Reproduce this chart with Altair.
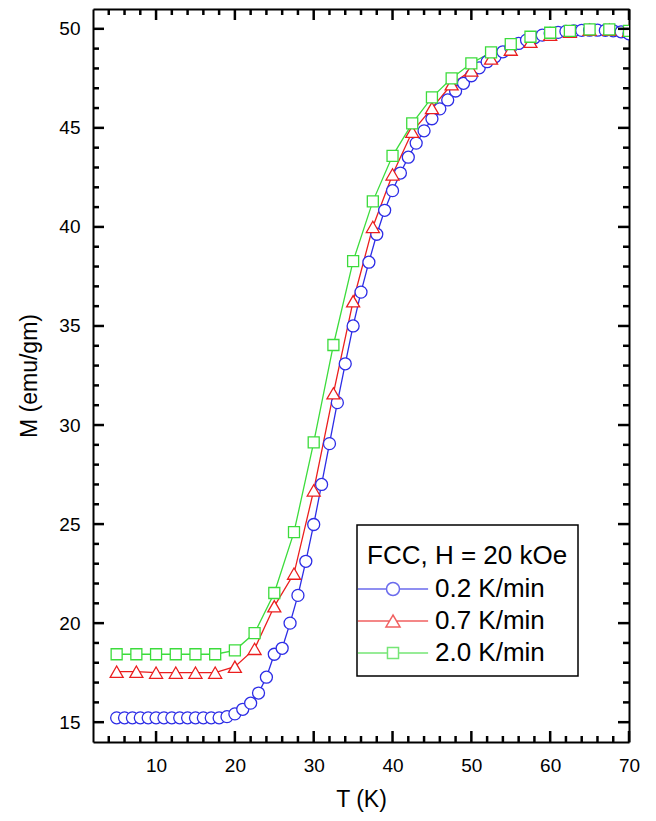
import altair as alt
import pandas as pd

# ---------------- data ----------------
blue_T = [5, 6, 7, 8, 9, 10, 11, 12, 13, 14, 15, 16, 17, 18, 19, 20, 21, 22, 23, 24,
          25, 26, 27, 28, 29, 30, 31, 32, 33, 34, 35, 36, 37, 38, 39, 40, 41, 42, 43, 44,
          45, 46, 47, 48, 49, 50, 51, 52, 53, 54, 55, 56, 57, 58, 59, 60, 61, 62, 63, 64,
          65, 66, 67, 68, 69, 70]
blue_M = [15.22, 15.22, 15.22, 15.22, 15.22, 15.22, 15.22, 15.22, 15.22, 15.22, 15.22, 15.22, 15.22, 15.22,
          15.28, 15.42, 15.65, 15.96, 16.47, 17.27, 18.43, 18.73, 20.0, 21.4, 23.12, 24.98, 27.0, 29.06,
          31.13, 33.09, 35.0, 36.71, 38.22, 39.63, 40.84, 41.83, 42.72, 43.52, 44.23, 44.85, 45.46, 45.96,
          46.41, 46.86, 47.25, 47.63, 48.03, 48.34, 48.59, 48.84, 49.05, 49.26, 49.43, 49.55, 49.68, 49.77,
          49.82, 49.87, 49.9, 49.92, 49.93, 49.93, 49.92, 49.9, 49.85, 49.75]

red_T = [5, 7.5, 10, 12.5, 15, 17.5, 20, 22.5, 25, 27.5, 30, 32.5, 35, 37.5, 40, 42.5, 45,
         47.5, 50, 52.5, 55, 57.5, 60, 62.5, 65, 67.5, 70]
red_M = [17.55, 17.55, 17.5, 17.5, 17.5, 17.5, 17.8, 18.7, 20.85, 22.5, 26.7, 31.6, 36.25, 40.0,
         42.65, 44.8, 46.0, 47.2, 47.9, 48.5, 48.95, 49.35, 49.7, 49.85, 49.95, 49.95, 49.9]

green_T = [5, 7.5, 10, 12.5, 15, 17.5, 20, 22.5, 25, 27.5, 30, 32.5, 35, 37.5, 40, 42.5, 45,
           47.5, 50, 52.5, 55, 57.5, 60, 62.5, 65, 67.5, 70]
green_M = [18.43, 18.43, 18.43, 18.43, 18.43, 18.43, 18.63, 19.5, 21.52, 24.59, 29.12, 34.04, 38.27,
           41.29, 43.59, 45.23, 46.54, 47.5, 48.26, 48.81, 49.23, 49.6, 49.8, 49.9, 49.97, 49.97, 49.9]

series_names = ["0.2 K/min", "0.7 K/min", "2.0 K/min"]
series_colors = ["#2d2de6", "#eb1e1e", "#3cdc3c"]

x_major_ticks = [10, 20, 30, 40, 50, 60, 70]
x_minor_ticks = [4, 6, 8, 12, 14, 16, 18, 22, 24, 26, 28, 32, 34, 36, 38, 42, 44, 46, 48,
                 52, 54, 56, 58, 62, 64, 66, 68]
y_major_ticks = [15, 20, 25, 30, 35, 40, 45, 50]
y_minor_ticks = [16, 17, 18, 19, 21, 22, 23, 24, 26, 27, 28, 29, 31, 32, 33, 34, 36, 37, 38, 39,
                 41, 42, 43, 44, 46, 47, 48, 49]

legend_title = "FCC, H = 20 kOe"
x_title = "T (K)"
y_title = "M (emu/gm)"

# legend symbols: line + marker, as custom paths
legend_paths = [
    "M-5.4,0H-1M1,0H5.4M1,0A1,1,0,1,1,-1,0A1,1,0,1,1,1,0Z",
    "M-5.4,0H-0.54M0.54,0H5.4M0,-0.92L-1.08,0.92L1.08,0.92Z",
    "M-5.4,0H-0.85M0.85,0H5.4M-0.85,-0.85H0.85V0.85H-0.85Z",
]

# ---------------- build ----------------
W, H = 536, 733
FONT = "Liberation Sans"
MAJOR, MINOR = 11, 6

frames = []
for name, T, M in zip(series_names, [blue_T, red_T, green_T], [blue_M, red_M, green_M]):
    frames.append(pd.DataFrame({"T": T, "M": M, "rate": name}))
df = pd.concat(frames, ignore_index=True)

xs = alt.Scale(domain=[2, 70], nice=False, zero=False)
ys = alt.Scale(domain=[14, 51], nice=False, zero=False)

ax_bottom = alt.Axis(orient="bottom", values=x_major_ticks, ticks=False, domain=True,
                     domainColor="black", domainWidth=2, labelPadding=14, labelFlush=False,
                     labelOverlap=False, title=x_title, titlePadding=13, grid=False)
ax_left = alt.Axis(orient="left", values=y_major_ticks, ticks=False, domain=True,
                   domainColor="black", domainWidth=2, labelPadding=13, labelFlush=False,
                   labelOverlap=False, title=y_title, titlePadding=17, grid=False)
ax_top_frame = alt.Axis(orient="bottom", offset=-H, values=x_major_ticks, ticks=False, labels=False,
                        title=None, domain=True, domainColor="black", domainWidth=2, grid=False)
ax_right_frame = alt.Axis(orient="left", offset=-W, values=y_major_ticks, ticks=False, labels=False,
                          title=None, domain=True, domainColor="black", domainWidth=2, grid=False)

x_axes = [ax_bottom, ax_top_frame, None, None, None, None]
y_axes = [ax_left, ax_right_frame, None, None, None, None]

shapes = ["circle", "triangle-up", "square"]
sizes = [144, 169, 121]

specs = [("line", 0), ("line", 1), ("line", 2), ("point", 0), ("point", 1), ("point", 2)]

layers = []
for k, (kind, i) in enumerate(specs):
    sub = df[df["rate"] == series_names[i]]
    if kind == "line":
        mark = alt.Chart(sub).mark_line(color=series_colors[i], strokeWidth=1.3, clip=True)
    else:
        mark = alt.Chart(sub).mark_point(shape=shapes[i], size=sizes[i], filled=True,
                                         fill="white", stroke=series_colors[i],
                                         strokeWidth=1.3, opacity=1, clip=True)
    layers.append(mark.encode(
        x=alt.X("T:Q", scale=xs, axis=x_axes[k]),
        y=alt.Y("M:Q", scale=ys, axis=y_axes[k]),
    ))

# inward tick marks on the four sides of the frame
x_major_df = pd.DataFrame({"T": x_major_ticks})
x_minor_df = pd.DataFrame({"T": x_minor_ticks})
y_major_df = pd.DataFrame({"M": y_major_ticks})
y_minor_df = pd.DataFrame({"M": y_minor_ticks})

for tdf, length in [(x_major_df, MAJOR), (x_minor_df, MINOR)]:
    layers.append(alt.Chart(tdf).mark_rule(color="#000000", strokeWidth=2.5).encode(
        x=alt.X("T:Q", scale=xs, axis=None), y=alt.value(0), y2=alt.value(length)))
    layers.append(alt.Chart(tdf).mark_rule(color="#000000", strokeWidth=2.5).encode(
        x=alt.X("T:Q", scale=xs, axis=None), y=alt.value(H - length), y2=alt.value(H)))
for tdf, length in [(y_major_df, MAJOR), (y_minor_df, MINOR)]:
    layers.append(alt.Chart(tdf).mark_rule(color="#000000", strokeWidth=2.5).encode(
        y=alt.Y("M:Q", scale=ys, axis=None), x=alt.value(0), x2=alt.value(length)))
    layers.append(alt.Chart(tdf).mark_rule(color="#000000", strokeWidth=2.5).encode(
        y=alt.Y("M:Q", scale=ys, axis=None), x=alt.value(W - length), x2=alt.value(W)))

leg = alt.Legend(title=legend_title, orient="none", legendX=264, legendY=516,
                 strokeColor="black", fillColor="white", padding=10,
                 titleFont=FONT, titleFontSize=26, titleFontWeight="normal", titleColor="black",
                 titleLimit=0, titleBaseline="line-top", titleLineHeight=42,
                 labelFont=FONT, labelFontSize=26, labelColor="black", labelLimit=0,
                 symbolSize=169, symbolStrokeWidth=1.5, symbolOffset=13, labelOffset=29,
                 rowPadding=6, titlePadding=15)

legend_layer = alt.Chart(df).mark_point(filled=False, strokeWidth=1.5, size=169).encode(
    x=alt.X("T:Q", scale=xs, axis=None),
    y=alt.Y("M:Q", scale=ys, axis=None),
    color=alt.Color("rate:N", scale=alt.Scale(domain=series_names, range=series_colors), legend=leg),
    shape=alt.Shape("rate:N", scale=alt.Scale(domain=series_names, range=legend_paths), legend=leg),
).transform_filter("false")
layers.append(legend_layer)

chart = alt.layer(*layers).resolve_axis(x="independent", y="independent").properties(
    width=W, height=H,
    autosize=alt.AutoSizeParams(type="none"),
    padding={"left": 85, "top": 1, "right": 12, "bottom": 71},
).configure_axis(
    labelFont=FONT, labelFontSize=19, labelColor="black",
    titleFont=FONT, titleFontSize=23, titleFontWeight="normal", titleColor="black",
).configure_view(stroke=None).configure_legend(strokeWidth=1.5)

chart.save("out.html", embed_options={"renderer": "svg", "actions": False})
